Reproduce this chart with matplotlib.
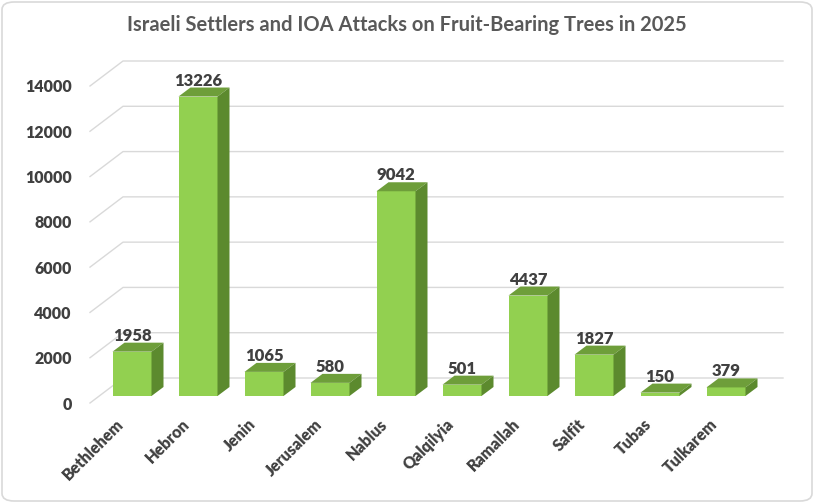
import matplotlib
matplotlib.use("Agg")
import matplotlib.pyplot as plt
from matplotlib.patches import Polygon, FancyBboxPatch

plt.rcParams["font.family"] = ["Lato", "DejaVu Sans"]

districts = ["Bethlehem", "Hebron", "Jenin", "Jerusalem", "Nablus",
             "Qalqilyia", "Ramallah", "Salfit", "Tubas", "Tulkarem"]
trees = [1958, 13226, 1065, 580, 9042, 501, 4437, 1827, 150, 379]
yticks = [0, 2000, 4000, 6000, 8000, 10000, 12000, 14000]
title = "Israeli Settlers and IOA Attacks on Fruit-Bearing Trees in 2025"

W, H = 814, 503
FRONT = "#92D050"
TOP = "#6E9E3A"
SIDE = "#5C8A2E"
GRID = "#D9D9D9"
TXT = "#404040"
WT = "heavy"

fig = plt.figure(figsize=(W / 100, H / 100), dpi=100)

# rounded chart-area border (behind everything)
fig.patches.append(FancyBboxPatch((2 / W, 2 / H), (W - 4) / W, (H - 4) / H,
                                  boxstyle="round,pad=0,rounding_size=0.015",
                                  transform=fig.transFigure, fc="white",
                                  ec="#D9D9D9", lw=1.2, zorder=-5))

# axes = front edge of the floor, 0..14000
ax = fig.add_axes([90 / W, (H - 403) / H, 660 / W, 317 / H])
ax.set_xlim(-0.5, len(districts) - 0.5)
ax.set_ylim(0, 14000)
ax.patch.set_alpha(0)
for s in ax.spines.values():
    s.set_visible(False)

# pixel -> data conversions for the oblique depth
px_x = 660 / len(districts)
px_y = 317 / 14000


def off(dx, dy):
    return dx / px_x, dy / px_y


# gridlines: diagonal on the side wall, horizontal along the back wall
wx, wy = off(33, 25)
x0, x1 = -0.5, len(districts) - 0.5
for v in yticks:
    ax.plot([x0, x0 + wx, x1 + wx], [v, v + wy, v + wy], color=GRID, lw=1,
            clip_on=False, zorder=1)

# bars: front face via ax.bar, top/side faces as polygons
fx, fy = off(9, 7)
bx, by = off(12, 9)
hw = 19.5 / px_x
xs = [i + fx for i in range(len(districts))]
ax.bar(xs, trees, width=2 * hw, bottom=fy, color=FRONT, zorder=3,
       clip_on=False)
for x, v in zip(xs, trees):
    l, r, b, t = x - hw, x + hw, fy, fy + v
    ax.add_patch(Polygon([(l, t), (r, t), (r + bx, t + by), (l + bx, t + by)],
                         closed=True, fc=TOP, ec="none", zorder=3, clip_on=False))
    ax.add_patch(Polygon([(r, b), (r + bx, b + by), (r + bx, t + by), (r, t)],
                         closed=True, fc=SIDE, ec="none", zorder=3, clip_on=False))
    ax.text(x, t + by + 2 / px_y, str(v), ha="center", va="baseline",
            fontsize=12, fontweight=WT, color=TXT, zorder=5, clip_on=False)

# y tick labels
ax.set_yticks(yticks)
ax.set_yticklabels([str(v) for v in yticks], fontsize=11.5, fontweight=WT,
                   color=TXT)
ax.tick_params(axis="y", length=0, pad=13)
ax.set_xticks([])

# category labels, rotated
for i, name in enumerate(districts):
    ax.text(i + 0.06, -13 / px_y, name, rotation=45, ha="right", va="top",
            fontsize=11.5, fontweight=WT, color=TXT, clip_on=False)

fig.text(407 / W, 1 - 30.7 / H, title, ha="center", va="baseline",
         fontsize=14.5, fontweight="bold", color="#595959")

fig.savefig("out.png", dpi=100)
